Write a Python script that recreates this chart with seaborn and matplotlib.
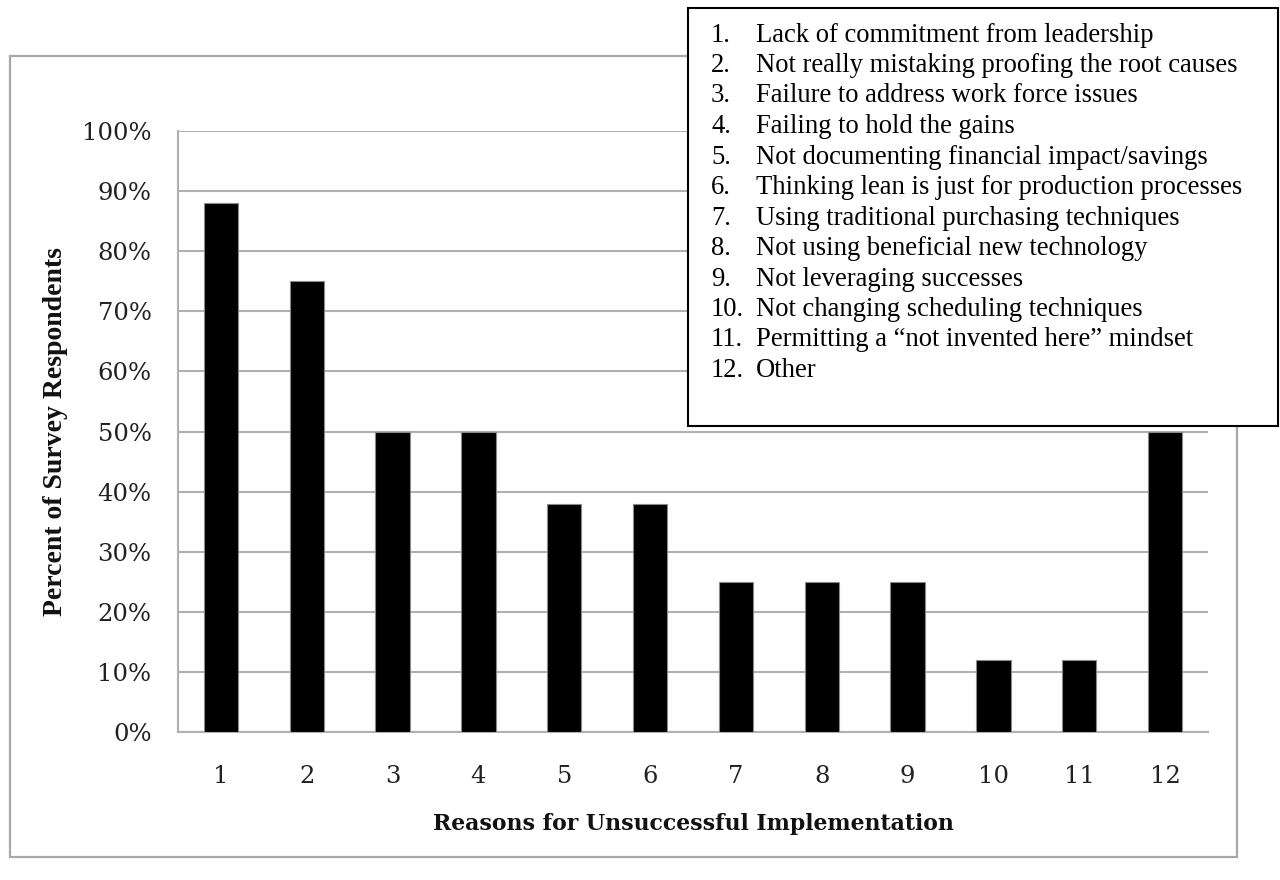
import matplotlib
matplotlib.use("Agg")
import matplotlib.pyplot as plt
from matplotlib.patches import Rectangle
from matplotlib.ticker import FuncFormatter
import seaborn as sns
import pandas as pd

# Survey results: share of respondents citing each reason
reason_ids = ["1", "2", "3", "4", "5", "6", "7", "8", "9", "10", "11", "12"]
percent_respondents = [88, 75, 50, 50, 38, 38, 25, 25, 25, 12, 12, 50]
reason_texts = [
    "Lack of commitment from leadership",
    "Not really mistaking proofing the root causes",
    "Failure to address work force issues",
    "Failing to hold the gains",
    "Not documenting financial impact/savings",
    "Thinking lean is just for production processes",
    "Using traditional purchasing techniques",
    "Not using beneficial new technology",
    "Not leveraging successes",
    "Not changing scheduling techniques",
    "Permitting a \u201cnot invented here\u201d mindset",
    "Other",
]
y_ticks = [0, 10, 20, 30, 40, 50, 60, 70, 80, 90, 100]

W, H = 1280, 880
sns.set_theme(style="white")
plt.rcParams["font.family"] = ["DejaVu Serif"]

fig = plt.figure(figsize=(W / 100, H / 100), dpi=100)
fig.patch.set_facecolor("white")


def fx(px):
    return px / W


def fy(py):
    return 1 - py / H


# outer chart frame
fig.patches.append(Rectangle((fx(10), fy(857)), fx(1237) - fx(10), fy(56) - fy(857),
                             transform=fig.transFigure, fill=False,
                             edgecolor="#a8a8a8", linewidth=1.6, zorder=0))

ax = fig.add_axes([fx(178), fy(732), fx(1208) - fx(178), fy(131) - fy(732)])
df = pd.DataFrame({"reason": reason_ids, "pct": percent_respondents})
sns.barplot(data=df, x="reason", y="pct", order=reason_ids, color="black",
            width=0.4, saturation=1, edgecolor="#8a8a8a", linewidth=0.8, ax=ax, zorder=3)

ax.set_ylim(0, 100)
ax.set_xlim(-0.5, len(reason_ids) - 0.5)
ax.set_yticks(y_ticks)
ax.yaxis.set_major_formatter(FuncFormatter(lambda v, _: f"{int(v)}%"))
ax.grid(axis="y", color="#b0b0b0", linewidth=1.5, zorder=0)
ax.set_axisbelow(True)
for side in ["top", "right"]:
    ax.spines[side].set_visible(False)
for side in ["left", "bottom"]:
    ax.spines[side].set_color("#b0b0b0")
    ax.spines[side].set_linewidth(1.5)
ax.tick_params(axis="both", length=0, labelsize=17.5, colors="#222222")
ax.tick_params(axis="y", pad=19)
ax.tick_params(axis="x", pad=24)

ax.set_xlabel("Reasons for Unsuccessful Implementation", fontsize=15.8,
              fontweight="bold", color="#111111")
ax.xaxis.set_label_coords(0.5, -(813 - 732) / 601)
ax.set_ylabel("Percent of Survey Respondents", fontsize=20, fontweight="bold",
              family=["Liberation Serif"], color="#111111")
ax.yaxis.set_label_coords((68 - 178) / 1030, 0.5)

# key box listing the reasons
fig.patches.append(Rectangle((fx(688), fy(426)), fx(1278) - fx(688), fy(8) - fy(426),
                             transform=fig.transFigure, facecolor="white",
                             edgecolor="black", linewidth=1.5, zorder=10))
for i, (rid, txt) in enumerate(zip(reason_ids, reason_texts)):
    yc = 35 + i * 30.5
    fig.text(fx(711), fy(yc), f"{rid}.", family=["Liberation Serif"], fontsize=19.2,
             va="center", ha="left", color="black", zorder=11)
    fig.text(fx(756), fy(yc), txt, family=["Liberation Serif"], fontsize=19.2,
             va="center", ha="left", color="black", zorder=11)

fig.savefig("out.png", dpi=100)
